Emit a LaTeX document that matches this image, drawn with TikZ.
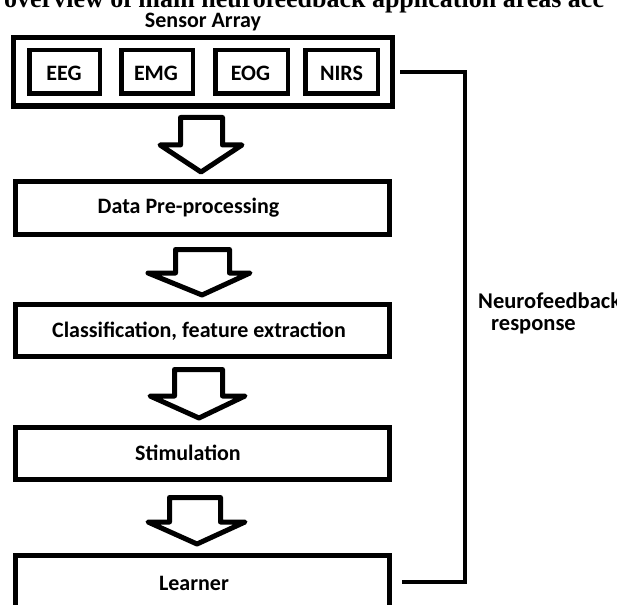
\documentclass[tikz,border=0pt]{standalone}
\usepackage{fontspec}
\setmainfont{Carlito}
\newfontfamily\titlefont{Liberation Serif}
\begin{document}
\begin{tikzpicture}[x=1bp,y=-1bp,
  lbl/.style={font=\fontsize{22bp}{26bp}\selectfont\bfseries, inner sep=0pt, text=black},
  biglbl/.style={font=\fontsize{22.5bp}{27bp}\selectfont\bfseries, inner sep=0pt, text=black},
  flowbox/.style={draw=black, line width=5bp, minimum width=374bp, minimum height=52bp, inner sep=0pt},
  sensbox/.style={draw=black, line width=4.5bp, minimum height=43.5bp, inner sep=0pt},
  blockarrow/.style={draw=black, line width=5bp, line join=round, fill=white},
  fbline/.style={draw=black, line width=4bp}]
\useasboundingbox (0,0) rectangle (617,605);
\begin{scope}
\clip (0,0) rectangle (617,605);
% cut-off title
\node[anchor=base west, inner sep=0pt, font=\titlefont\bfseries\fontsize{26bp}{30bp}\selectfont] (title) at (4,8) {overview of main neurofeedback application areas acc};
% sensor array
\node[draw=black, line width=5.5bp, minimum width=378.5bp, minimum height=68.5bp, inner sep=0pt] (sens) at (203,72) {};
\node[lbl, anchor=base] (senslbl) at (203,28) {Sensor Array};
\node[sensbox, minimum width=70.5bp] (eeg) at (64.5,72) {};
\node[sensbox, minimum width=71.5bp] (emg) at (157,72) {};
\node[sensbox, minimum width=72.5bp] (eog) at (251.5,72) {};
\node[sensbox, minimum width=72.5bp] (nirs) at (341.5,72) {};
\node[lbl, anchor=base] (teeg) at (64,81) {EEG};
\node[lbl, anchor=base] (temg) at (156,81) {EMG};
\node[lbl, anchor=base] (teog) at (250.5,81) {EOG};
\node[lbl, anchor=base] (tnirs) at (341.5,81) {NIRS};
% flow boxes
\node[flowbox] (data) at (202.5,208) {};
\node[flowbox] (class) at (202.5,330) {};
\node[flowbox] (stim) at (202.5,453.5) {};
\node[flowbox] (learn) at (202.5,581.5) {};
\node[lbl, anchor=base] (tdata) at (188.5,213) {Data Pre-processing};
\node[lbl, anchor=base] (tclass) at (199,337) {Classification, feature extraction};
\node[lbl, anchor=base] (tstim) at (188,460) {Stimulation};
\node[lbl, anchor=base] (tlearn) at (194,590) {Learner};
% block arrows
\draw[blockarrow] (180.5,117.5) -- (222.5,117.5) -- (222.5,145) -- (242,145) -- (201,172) -- (160,145) -- (180.5,145) -- cycle;
\draw[blockarrow] (175.5,249.5) -- (229.5,249.5) -- (229.5,273) -- (250,273) -- (202,295) -- (148,273) -- (175.5,273) -- cycle;
\draw[blockarrow] (174.5,369.5) -- (222.5,369.5) -- (222.5,396) -- (245,396) -- (199,418) -- (150,396) -- (174.5,396) -- cycle;
\draw[blockarrow] (169.5,497.5) -- (220.5,497.5) -- (220.5,522) -- (245,522) -- (197,544) -- (148,522) -- (169.5,522) -- cycle;
% feedback connector
\coordinate (fbx) at (465,72);
\draw[fbline] ([xshift=5bp]sens.east) -- (fbx |- sens.east) -- (fbx |- learn.east) -- ([xshift=10bp]learn.east);
\node[biglbl, anchor=base west] (tneuro) at (478,308) {Neurofeedback};
\node[biglbl, anchor=base west] (tresp) at (491,330) {response};
\end{scope}
\end{tikzpicture}
\end{document}
